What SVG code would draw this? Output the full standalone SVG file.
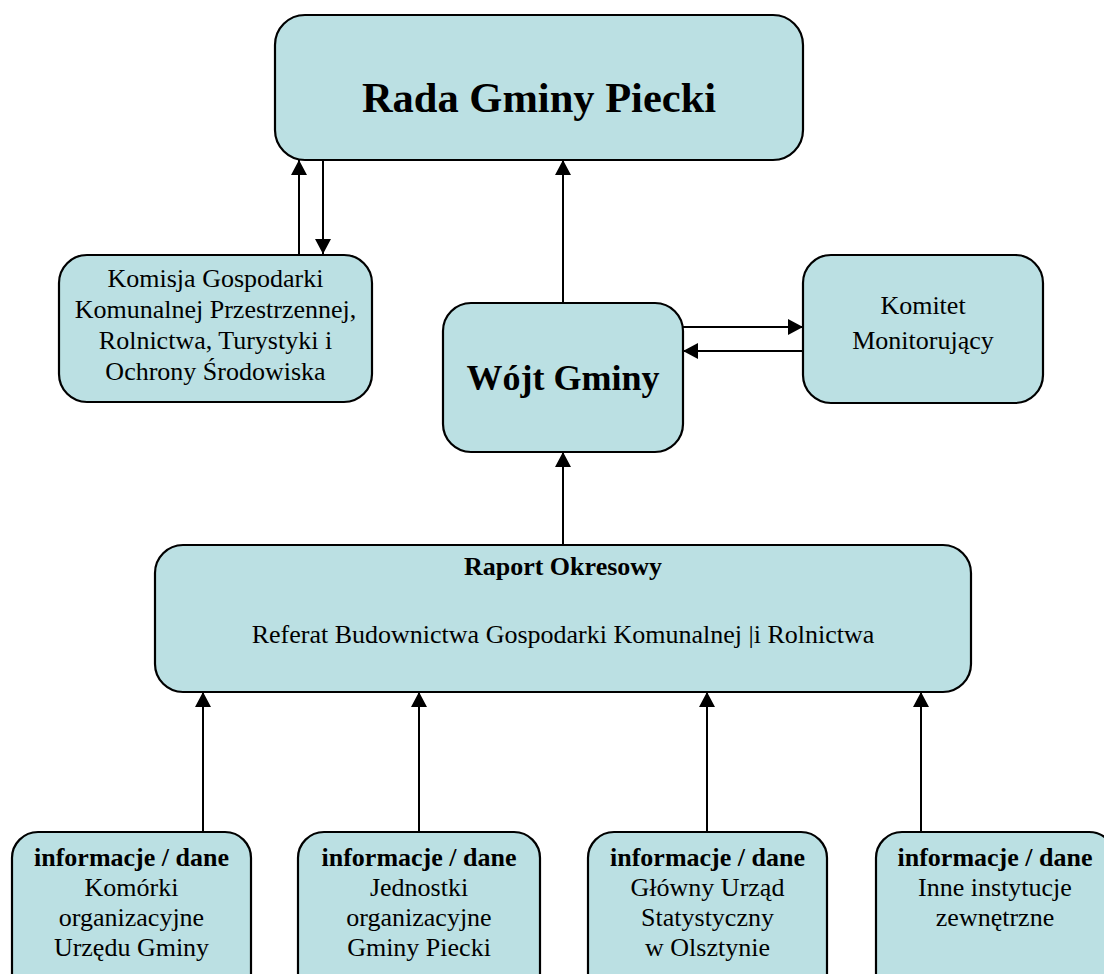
<svg xmlns="http://www.w3.org/2000/svg" width="1104" height="974" viewBox="0 0 1104 974">
<style>
.box{fill:#BBE0E3;stroke:#000;stroke-width:2.2}
.t{font-family:"Liberation Serif","Times New Roman",serif;fill:#000;text-anchor:middle;font-size:26px}
.b{font-weight:bold}
.c{stroke:#000;stroke-width:2;fill:none;marker-end:url(#ah)}
</style>
<defs>
<marker id="ah" markerUnits="userSpaceOnUse" markerWidth="16" markerHeight="16" refX="15" refY="8" orient="auto">
<path d="M0,0 L15,8 L0,16 z" fill="#000"/>
</marker>
</defs>
<rect width="1104" height="974" fill="#fff"/>
<g id="connectors">
<line class="c" x1="299" y1="254" x2="299" y2="160"/>
<line class="c" x1="323" y1="160" x2="323" y2="254"/>
<line class="c" x1="563" y1="303" x2="563" y2="160"/>
<line class="c" x1="683" y1="327" x2="803" y2="327"/>
<line class="c" x1="803" y1="351" x2="683" y2="351"/>
<line class="c" x1="563" y1="545" x2="563" y2="452"/>
<line class="c" x1="203" y1="832" x2="203" y2="692"/>
<line class="c" x1="419" y1="832" x2="419" y2="692"/>
<line class="c" x1="707" y1="832" x2="707" y2="692"/>
<line class="c" x1="921" y1="832" x2="921" y2="692"/>
</g>
<g id="rada">
<rect class="box" x="275" y="15" width="528" height="145" rx="30"/>
<text class="t b" x="539" y="112" style="font-size:42.5px">Rada Gminy Piecki</text>
</g>
<g id="komisja">
<rect class="box" x="59" y="255" width="313" height="147" rx="28"/>
<text class="t" x="215.5" y="287">Komisja Gospodarki</text>
<text class="t" x="215.5" y="318">Komunalnej Przestrzennej,</text>
<text class="t" x="215.5" y="349">Rolnictwa, Turystyki i</text>
<text class="t" x="215.5" y="380">Ochrony Środowiska</text>
</g>
<g id="wojt">
<rect class="box" x="443" y="303" width="240" height="149" rx="28"/>
<text class="t b" x="563" y="390" style="font-size:36px">Wójt Gminy</text>
</g>
<g id="komitet">
<rect class="box" x="803" y="255" width="240" height="148" rx="28"/>
<text class="t" x="923" y="314">Komitet</text>
<text class="t" x="923" y="349">Monitorujący</text>
</g>
<g id="raport">
<rect class="box" x="155" y="545" width="816" height="147" rx="28"/>
<text class="t b" x="563" y="575">Raport Okresowy</text>
<text class="t" x="563" y="643">Referat Budownictwa Gospodarki Komunalnej |i Rolnictwa</text>
</g>
<g id="info1">
<rect class="box" x="12" y="832" width="239" height="170" rx="26"/>
<text class="t b" x="131.5" y="866">informacje / dane</text>
<text class="t" x="131.5" y="896">Komórki</text>
<text class="t" x="131.5" y="926">organizacyjne</text>
<text class="t" x="131.5" y="956">Urzędu Gminy</text>
</g>
<g id="info2">
<rect class="box" x="298" y="832" width="242" height="170" rx="26"/>
<text class="t b" x="419" y="866">informacje / dane</text>
<text class="t" x="419" y="896">Jednostki</text>
<text class="t" x="419" y="926">organizacyjne</text>
<text class="t" x="419" y="956">Gminy Piecki</text>
</g>
<g id="info3">
<rect class="box" x="588" y="832" width="239" height="170" rx="26"/>
<text class="t b" x="707.5" y="866">informacje / dane</text>
<text class="t" x="707.5" y="896">Główny Urząd</text>
<text class="t" x="707.5" y="926">Statystyczny</text>
<text class="t" x="707.5" y="956">w Olsztynie</text>
</g>
<g id="info4">
<rect class="box" x="876" y="832" width="239" height="170" rx="26"/>
<text class="t b" x="995" y="866">informacje / dane</text>
<text class="t" x="995" y="896">Inne instytucje</text>
<text class="t" x="995" y="926">zewnętrzne</text>
</g>
</svg>
